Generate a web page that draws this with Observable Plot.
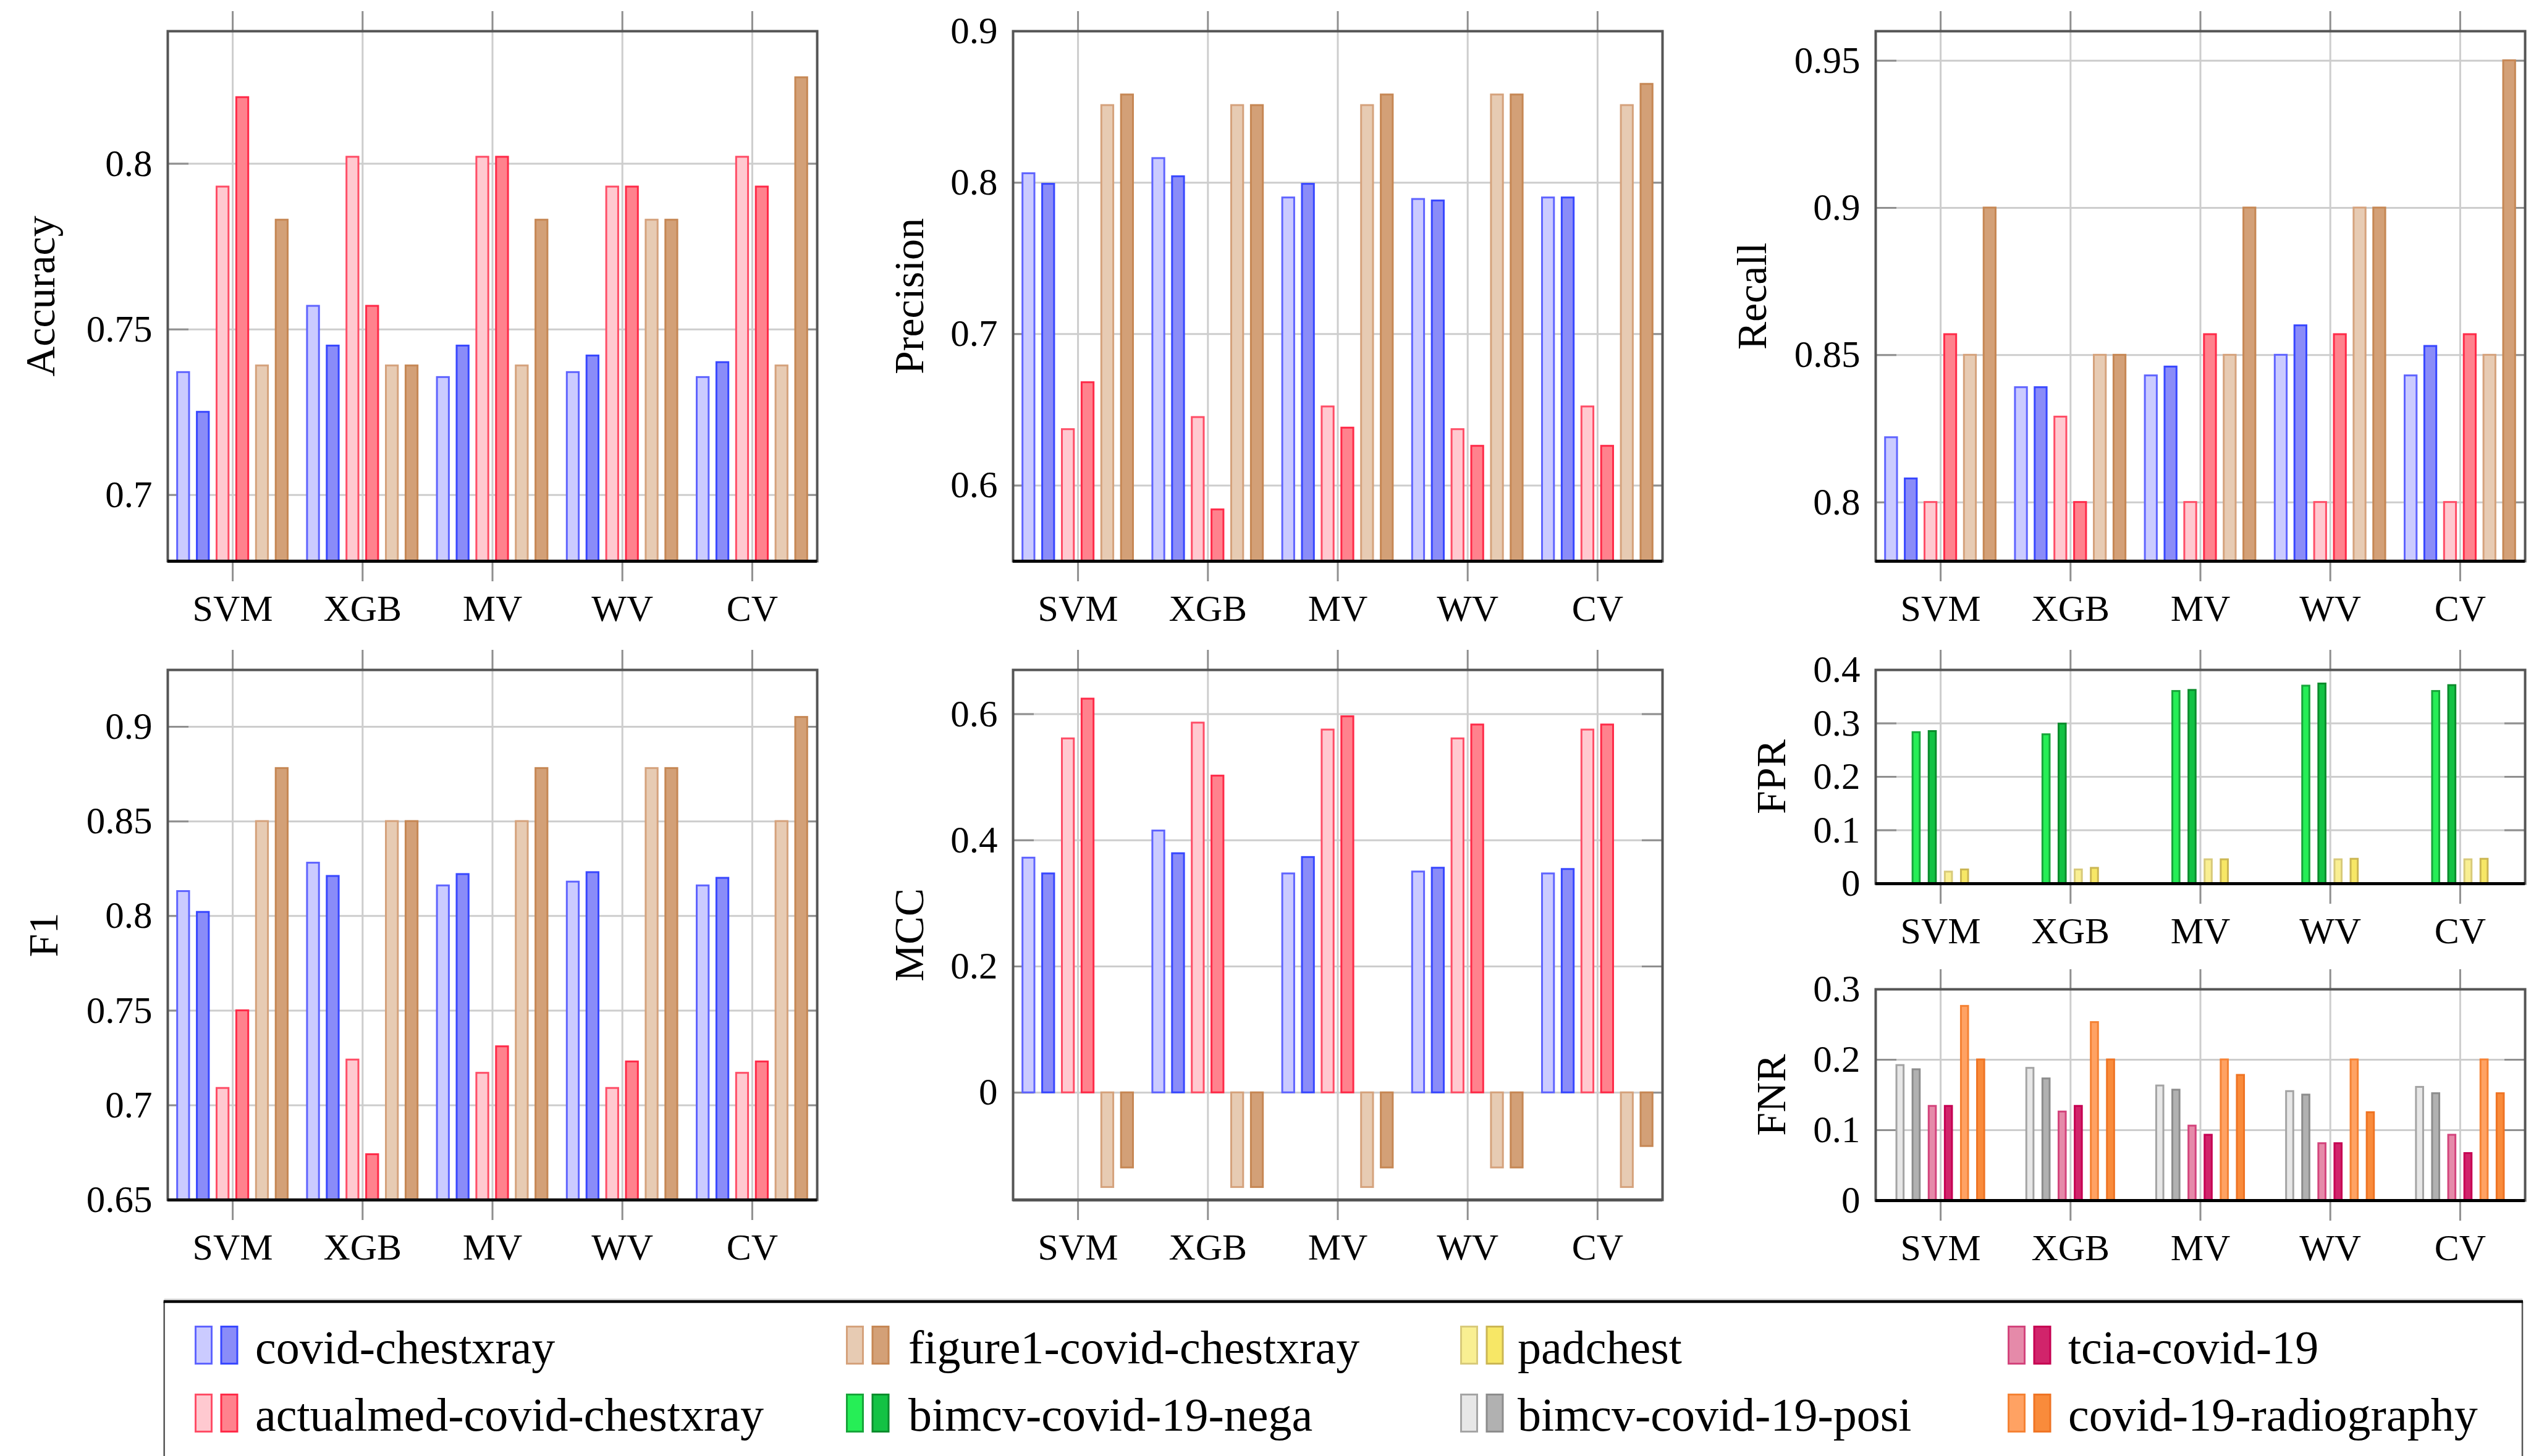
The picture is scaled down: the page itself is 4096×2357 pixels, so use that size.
<!DOCTYPE html>
<html><head><meta charset="utf-8">
<script src="https://cdn.jsdelivr.net/npm/d3@7"></script>
<script src="https://cdn.jsdelivr.net/npm/@observablehq/plot@0.6"></script>
<style>
html,body{margin:0;padding:0;background:#fff;}
#root{position:relative;width:4096px;height:2357px;overflow:hidden;background:#fff;font-family:"Liberation Serif",serif;}
#root > svg{position:absolute;}
</style></head><body><div id="root"></div>
<script>
// ---------- data ----------
const groups = ["SVM", "XGB", "MV", "WV", "CV"];
const mainSeries = ["covid-chestxray", "actualmed-covid-chestxray", "figure1-covid-chestxray"];
const fprSeries = ["bimcv-covid-19-nega", "padchest"];
const fnrSeries = ["bimcv-covid-19-posi", "tcia-covid-19", "covid-19-radiography"];
// rows: [dataset light, dataset dark] for each dataset, columns follow `groups`
const accuracyValues = [
  [0.737, 0.757, 0.7355, 0.737, 0.7355],
  [0.725, 0.745, 0.745, 0.742, 0.740],
  [0.793, 0.802, 0.802, 0.793, 0.802],
  [0.820, 0.757, 0.802, 0.793, 0.793],
  [0.739, 0.739, 0.739, 0.783, 0.739],
  [0.783, 0.739, 0.783, 0.783, 0.826]
];
const precisionValues = [
  [0.806, 0.816, 0.790, 0.789, 0.790],
  [0.799, 0.804, 0.799, 0.788, 0.790],
  [0.637, 0.645, 0.652, 0.637, 0.652],
  [0.668, 0.584, 0.638, 0.626, 0.626],
  [0.851, 0.851, 0.851, 0.858, 0.851],
  [0.858, 0.851, 0.858, 0.858, 0.865]
];
const recallValues = [
  [0.822, 0.839, 0.843, 0.850, 0.843],
  [0.808, 0.839, 0.846, 0.860, 0.853],
  [0.800, 0.829, 0.800, 0.800, 0.800],
  [0.857, 0.800, 0.857, 0.857, 0.857],
  [0.850, 0.850, 0.850, 0.900, 0.850],
  [0.900, 0.850, 0.900, 0.900, 0.950]
];
const f1Values = [
  [0.813, 0.828, 0.816, 0.818, 0.816],
  [0.802, 0.821, 0.822, 0.823, 0.820],
  [0.709, 0.724, 0.717, 0.709, 0.717],
  [0.750, 0.674, 0.731, 0.723, 0.723],
  [0.850, 0.850, 0.850, 0.878, 0.850],
  [0.878, 0.850, 0.878, 0.878, 0.905]
];
const mccValues = [
  [0.372, 0.415, 0.347, 0.350, 0.347],
  [0.347, 0.379, 0.373, 0.356, 0.354],
  [0.561, 0.586, 0.575, 0.561, 0.575],
  [0.624, 0.502, 0.596, 0.583, 0.583],
  [-0.150, -0.150, -0.150, -0.119, -0.150],
  [-0.119, -0.150, -0.119, -0.119, -0.085]
];
const fprValues = [
  [0.283, 0.279, 0.360, 0.370, 0.360],
  [0.285, 0.299, 0.362, 0.374, 0.371],
  [0.022, 0.026, 0.045, 0.045, 0.045],
  [0.026, 0.029, 0.045, 0.046, 0.046]
];
const fnrValues = [
  [0.192, 0.188, 0.163, 0.155, 0.161],
  [0.186, 0.173, 0.157, 0.150, 0.152],
  [0.134, 0.126, 0.106, 0.081, 0.093],
  [0.134, 0.134, 0.093, 0.081, 0.067],
  [0.276, 0.253, 0.200, 0.200, 0.200],
  [0.200, 0.200, 0.178, 0.125, 0.152]
];
const accuracyTicks = [0.7, 0.75, 0.8];
const precisionTicks = [0.6, 0.7, 0.8, 0.9];
const recallTicks = [0.8, 0.85, 0.9, 0.95];
const f1Ticks = [0.65, 0.7, 0.75, 0.8, 0.85, 0.9];
const mccTicks = [0, 0.2, 0.4, 0.6];
const fprTicks = [0, 0.1, 0.2, 0.3, 0.4];
const fnrTicks = [0, 0.1, 0.2, 0.3];
const legendColumns = [
  ["covid-chestxray", "actualmed-covid-chestxray"],
  ["figure1-covid-chestxray", "bimcv-covid-19-nega"],
  ["padchest", "bimcv-covid-19-posi"],
  ["tcia-covid-19", "covid-19-radiography"]
];

// ---------- styles ----------
const palette = {
  "covid-chestxray": [{fill: "#cbcbff", stroke: "#5f64ff"}, {fill: "#8a8cf8", stroke: "#3847ff"}],
  "actualmed-covid-chestxray": [{fill: "#ffc9d0", stroke: "#ff4d66"}, {fill: "#ff828d", stroke: "#ff2a48"}],
  "figure1-covid-chestxray": [{fill: "#e7cbb3", stroke: "#d5a27c"}, {fill: "#d3a077", stroke: "#c68754"}],
  "bimcv-covid-19-nega": [{fill: "#26ee56", stroke: "#17a53a"}, {fill: "#13c244", stroke: "#0b8c2c"}],
  "padchest": [{fill: "#f9ef92", stroke: "#d8ca7a"}, {fill: "#f7e766", stroke: "#cbb653"}],
  "tcia-covid-19": [{fill: "#e58aa9", stroke: "#d3447c"}, {fill: "#d1246b", stroke: "#c60052"}],
  "bimcv-covid-19-posi": [{fill: "#e7e7e7", stroke: "#a4a4a4"}, {fill: "#b1b1b1", stroke: "#8c8c8c"}],
  "covid-19-radiography": [{fill: "#ffa263", stroke: "#f58234"}, {fill: "#f98b3b", stroke: "#ef7424"}]
};
const FONT = "Liberation Serif";
const root = document.getElementById("root");
const W = 1051;

function panel({values, series, yDomain, yTicks, label, labelOffset, left, top, height, step, barW, bottomColor}) {
  const mL = 260, mR = 24, mT = 45, mB = 125;
  const styles = series.flatMap(k => palette[k]);
  const n = values.length;
  const rows = [];
  values.forEach((arr, s) => arr.forEach((v, g) => rows.push({s, g, v})));
  const pxPerUnit = W / groups.length;
  const stepU = step / pxPerUnit, wU = barW / pxPerUnit;
  const x1 = d => d.g + (d.s - (n - 1) / 2) * stepU - wU / 2;
  const x2 = d => d.g + (d.s - (n - 1) / 2) * stepU + wU / 2;
  const gi = d3.range(groups.length);
  const tickStroke = "#8f8f8f";
  const marks = [
    Plot.gridX(gi, {stroke: "#cdcdcd", strokeOpacity: 1, strokeWidth: 3}),
    Plot.gridY(yTicks, {stroke: "#cdcdcd", strokeOpacity: 1, strokeWidth: 3}),
    Plot.axisY(yTicks, {anchor: "left", tickSize: -34, fill: "none", stroke: tickStroke, strokeWidth: 3, label: null}),
    Plot.axisY(yTicks, {anchor: "right", tickSize: -34, fill: "none", stroke: tickStroke, strokeWidth: 3, label: null}),
    Plot.axisX(gi, {anchor: "top", tickSize: 33, fill: "none", stroke: tickStroke, strokeWidth: 3, label: null}),
    Plot.axisX(gi, {anchor: "bottom", tickSize: 33, tickPadding: 21, stroke: tickStroke, strokeWidth: 3,
      fill: "black", tickFormat: i => groups[i], fontSize: 60, label: null}),
    ...styles.map((st, s) => Plot.rectY(rows.filter(d => d.s === s), {
      x1, x2, y1: 0, y2: "v", fill: st.fill, stroke: st.stroke, strokeWidth: 3, clip: true
    })),
    Plot.frame({stroke: "#555", strokeWidth: 4}),
    Plot.ruleY([yDomain[0]], {stroke: bottomColor, strokeWidth: 5}),
    Plot.axisY(yTicks, {anchor: "left", tickSize: 0, tickPadding: 25, tickFormat: d => String(d),
      fontSize: 61, fill: "black", label: null}),
    Plot.text([label], {frameAnchor: "left", rotate: -90, dx: -labelOffset, lineAnchor: "bottom",
      textAnchor: "middle", fontSize: 68, fill: "black"})
  ];
  const svg = Plot.plot({
    width: mL + W + mR, height: mT + height + mB,
    marginLeft: mL, marginRight: mR, marginTop: mT, marginBottom: mB,
    x: {domain: [-0.5, groups.length - 0.5]},
    y: {domain: yDomain},
    style: {fontFamily: FONT, fontSize: "60px", background: "transparent", overflow: "visible", color: "black"},
    marks
  });
  svg.style.left = (left - mL) + "px";
  svg.style.top = (top - mT) + "px";
  root.appendChild(svg);
}

const L1 = 270.5, L2 = 1638.5, L3 = 3035;
const mainBar = {step: 31.9, barW: 19.3};
const smallBar = {step: 26.1, barW: 11.6};

panel({values: accuracyValues, series: mainSeries, yDomain: [0.68, 0.84], yTicks: accuracyTicks,
  label: "Accuracy", labelOffset: 184, left: L1, top: 50, height: 858, ...mainBar, bottomColor: "#000"});
panel({values: precisionValues, series: mainSeries, yDomain: [0.55, 0.9], yTicks: precisionTicks,
  label: "Precision", labelOffset: 146, left: L2, top: 50, height: 858, ...mainBar, bottomColor: "#000"});
panel({values: recallValues, series: mainSeries, yDomain: [0.78, 0.96], yTicks: recallTicks,
  label: "Recall", labelOffset: 178, left: L3, top: 50, height: 858, ...mainBar, bottomColor: "#000"});
panel({values: f1Values, series: mainSeries, yDomain: [0.65, 0.93], yTicks: f1Ticks,
  label: "F1", labelOffset: 179, left: L1, top: 1084, height: 858, ...mainBar, bottomColor: "#111"});
panel({values: mccValues, series: mainSeries, yDomain: [-0.17, 0.67], yTicks: mccTicks,
  label: "MCC", labelOffset: 146, left: L2, top: 1084, height: 858, ...mainBar, bottomColor: "#555"});
panel({values: fprValues, series: fprSeries, yDomain: [0, 0.4], yTicks: fprTicks,
  label: "FPR", labelOffset: 147, left: L3, top: 1084, height: 346, ...smallBar, bottomColor: "#000"});
panel({values: fnrValues, series: fnrSeries, yDomain: [0, 0.3], yTicks: fnrTicks,
  label: "FNR", labelOffset: 147, left: L3, top: 1601, height: 342, ...smallBar, bottomColor: "#000"});

// ---------- legend ----------
(function legend() {
  const top0 = 2080;
  const svg = d3.create("svg").attr("width", 4096).attr("height", 2357 - top0)
    .style("left", "0px").style("top", top0 + "px")
    .attr("font-family", FONT);
  const bx0 = 265.7, bx1 = 4082, by0 = 2107 - top0, by1 = 2357 - top0 + 10;
  svg.append("line").attr("x1", bx0).attr("x2", bx1).attr("y1", by0 - 3.5).attr("y2", by0 - 3.5)
    .attr("stroke", "#dedede").attr("stroke-width", 3);
  svg.append("line").attr("x1", bx0).attr("x2", bx0).attr("y1", by0).attr("y2", by1)
    .attr("stroke", "#555").attr("stroke-width", 2.5);
  svg.append("line").attr("x1", bx1).attr("x2", bx1).attr("y1", by0).attr("y2", by1)
    .attr("stroke", "#555").attr("stroke-width", 2.5);
  svg.append("line").attr("x1", bx0 - 1).attr("x2", bx1 + 1).attr("y1", by0).attr("y2", by0)
    .attr("stroke", "#000").attr("stroke-width", 4.5);
  const iconX = [315, 1369, 2363, 3249];
  const textX = [413, 1470, 2456, 3347];
  const iconTop = [2146 - top0, 2256 - top0];
  const baseline = [2207 - top0, 2316 - top0];
  const iw = 29, ih = 63, gap = 12.5;
  legendColumns.forEach((col, c) => col.forEach((name, r) => {
    palette[name].forEach((st, k) => {
      svg.append("rect")
        .attr("x", iconX[c] + k * (iw + gap) + 1.5).attr("y", iconTop[r] + 1.5)
        .attr("width", iw - 3).attr("height", ih - 3)
        .attr("fill", st.fill).attr("stroke", st.stroke).attr("stroke-width", 3);
    });
    svg.append("text").attr("x", textX[c]).attr("y", baseline[r])
      .attr("font-size", 76).attr("fill", "black").text(name);
  }));
  root.appendChild(svg.node());
})();
</script></body></html>
